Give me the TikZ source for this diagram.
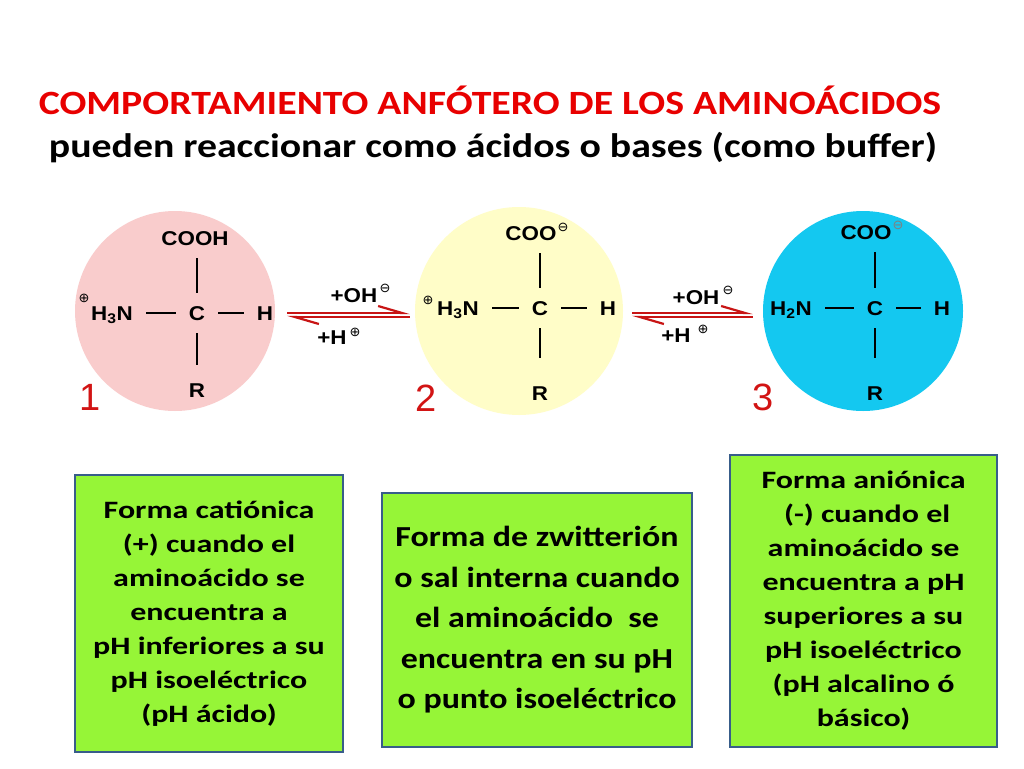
\documentclass[tikz,border=0pt]{standalone}
\usepackage{fontspec}
\setmainfont{Carlito}[FakeStretch=1.17]
\newfontfamily\gillf{Carlito}[FakeStretch=1.28]
\newfontfamily\arialf{Liberation Sans}[FakeStretch=1.12]
\newfontfamily\arialr{Liberation Sans}
\newfontfamily\symf{DejaVu Sans}
\usetikzlibrary{arrows.meta,calc}
\definecolor{ttlred}{RGB}{232,0,0}
\definecolor{pinkc}{RGB}{249,204,204}
\definecolor{yellc}{RGB}{255,253,200}
\definecolor{cyanc}{RGB}{20,200,240}
\definecolor{arrred}{RGB}{200,20,20}
\definecolor{boxgreen}{RGB}{150,245,55}
\definecolor{boxedge}{RGB}{56,93,138}
\definecolor{numred}{RGB}{210,20,20}
\begin{document}
\begin{tikzpicture}[x=1pt,y=-1pt,
  atom/.style={font=\arialf\bfseries\fontsize{20}{20}\selectfont, inner sep=0pt, anchor=base},
  bond/.style={line width=2.2pt, shorten <=13pt, shorten >=13pt},
  ring/.style={circle, inner sep=0pt},
  num/.style={font=\arialr\fontsize{38}{38}\selectfont, text=numred, inner sep=0pt},
  chg/.style={font=\symf\fontsize{13}{13}\selectfont, inner sep=0pt},
  harp/.style={draw=arrred, line width=1.8pt, -{Straight Barb[left,length=24pt,width=14pt,line width=2.2pt]}},
  gbox/.style={draw=boxedge, line width=2.5pt, fill=boxgreen, align=center, inner sep=0pt}]
\useasboundingbox (0,0) rectangle (1024,768);
\fill[white] (0,0) rectangle (1024,768);

% titles
\node[font=\bfseries\fontsize{34}{40}\selectfont, text=ttlred] (title) at (490,100) {COMPORTAMIENTO ANFÓTERO DE LOS AMINOÁCIDOS};
\node[font=\bfseries\fontsize{34}{40}\selectfont] (subtitle) at (493,148) {pueden reaccionar como ácidos o bases (como buffer)};

% circles
\node[ring, fill=pinkc, minimum size=200pt] (c1) at (175,311) {};
\node[ring, fill=yellc, minimum size=208pt] (c2) at (519,311) {};
\node[ring, fill=cyanc, minimum size=200pt] (c3) at (863,311) {};

% molecule 1
\node[atom] (T1) at (195,245) {COOH};
\node[atom] (C1) at (197,320) {C};
\node[atom] (R1) at (197,397) {R};
\node[atom] (H1) at (265,320) {H};
\node[atom] (N1) at (112,320) {H\textsubscript{3}N};
\node[chg] (p1) at (84,298) {⊕};
\draw[bond] (C1.north) -- (C1.north |- T1.south);
\draw[bond, shorten >=18pt] (C1.south) -- (C1.south |- R1.north);
\draw[bond] (C1.west) -- (C1.west -| N1.east);
\draw[bond] (C1.east) -- (C1.east -| H1.west);
\node[num] (n1) at (90,397) {1};

% molecule 2
\node[atom] (T2) at (531,240) {COO};
\node[chg] (m2) at (563,227) {⊖};
\node[atom] (C2) at (540,315) {C};
\node[atom] (R2) at (540,400) {R};
\node[atom] (H2) at (608,315) {H};
\node[atom] (N2) at (458,315) {H\textsubscript{3}N};
\node[chg] (p2) at (428,300) {⊕};
\draw[bond] (C2.north) -- (C2.north |- T2.south);
\draw[bond, shorten >=28pt] (C2.south) -- (C2.south |- R2.north);
\draw[bond] (C2.west) -- (C2.west -| N2.east);
\draw[bond] (C2.east) -- (C2.east -| H2.west);
\node[num] (n2) at (426,398) {2};

% molecule 3
\node[atom] (T3) at (866,239) {COO};
\node[chg, text=gray] (m3) at (898,225) {⊖};
\node[atom] (C3) at (875,315) {C};
\node[atom] (R3) at (875,400) {R};
\node[atom] (H3) at (942,315) {H};
\node[atom] (N3) at (791,315) {H\textsubscript{2}N};
\draw[bond] (C3.north) -- (C3.north |- T3.south);
\draw[bond, shorten >=28pt] (C3.south) -- (C3.south |- R3.north);
\draw[bond] (C3.west) -- (C3.west -| N3.east);
\draw[bond] (C3.east) -- (C3.east -| H3.west);
\node[num] (n3) at (763,397) {3};

% equilibrium arrows
\draw[harp] ($(c1.east)+(12,2)$) -- ($(c2.west)+(-5,2)$);
\draw[harp] ($(c2.west)+(-5,6)$) -- ($(c1.east)+(12,6)$);
\draw[harp] ($(c2.east)+(9,2)$) -- ($(c3.west)+(-10,2)$);
\draw[harp] ($(c3.west)+(-10,6)$) -- ($(c2.east)+(9,6)$);

% arrow labels
\node[atom] (oh1) at (354,302) {+OH};
\node[chg] (oh1c) at (385,288) {⊖};
\node[atom] (h1) at (332,344) {+H};
\node[chg] (h1c) at (355,332) {⊕};
\node[atom] (oh2) at (696,304) {+OH};
\node[chg] (oh2c) at (728,290) {⊖};
\node[atom] (h2) at (676,342) {+H};
\node[chg] (h2c) at (703,329) {⊕};

% boxes
\node[gbox, minimum width=268pt, minimum height=277pt, font=\gillf\bfseries\fontsize{25}{34}\selectfont] (b1) at (209,613.5)
  {Forma catiónica\\(+) cuando el\\aminoácido se\\encuentra a\\pH inferiores a su\\pH isoeléctrico\\(pH ácido)};
\node[gbox, minimum width=310pt, minimum height=254pt, font=\bfseries\fontsize{29}{40.5}\selectfont] (b2) at (537,620)
  {Forma de zwitterión\\o sal interna cuando\\el aminoácido\ \ se\\encuentra en su pH\\o punto isoeléctrico};
\node[gbox, minimum width=267pt, minimum height=292pt, font=\gillf\bfseries\fontsize{25}{34}\selectfont] (b3) at (863.5,601)
  {Forma aniónica\\\ (-) cuando el\\aminoácido se\\encuentra a pH\\superiores a su\\pH isoeléctrico\\(pH alcalino ó\\básico)};
\end{tikzpicture}
\end{document}
